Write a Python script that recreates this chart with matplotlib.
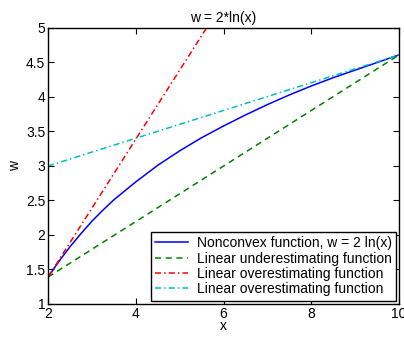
import matplotlib
matplotlib.use("Agg")
import matplotlib.pyplot as plt

plt.rcParams["font.family"] = ["Liberation Sans", "DejaVu Sans"]

# values
curve_x = [2.0, 2.25, 2.5, 2.75, 3.0, 3.25, 3.5, 3.75, 4.0, 4.5, 5.0, 5.5, 6.0, 6.5, 7.0,
           7.5, 8.0, 8.5, 9.0, 9.5, 10.0]
curve_w = [1.39, 1.62, 1.83, 2.02, 2.20, 2.36, 2.51, 2.64, 2.77, 3.01, 3.22, 3.41, 3.58,
           3.74, 3.89, 4.03, 4.16, 4.28, 4.39, 4.50, 4.61]
under_x = [2.0, 10.0]
under_w = [1.39, 4.61]
over1_x = [2.0, 5.61]
over1_w = [1.39, 5.0]
over2_x = [2.0, 10.0]
over2_w = [3.0, 4.61]

labels = [
    "Nonconvex function, w = 2 ln(x)",
    "Linear underestimating function",
    "Linear overestimating function",
    "Linear overestimating function",
]

fig = plt.figure(figsize=(4.04, 3.37), dpi=100)
ax = fig.add_axes([0.119, 0.098, 0.869, 0.819])

ax.plot(curve_x, curve_w, color="#0000ff", linewidth=1.1, label=labels[0])
ax.plot(under_x, under_w, color="#008000", linestyle=(0, (4, 3)), linewidth=1.1, label=labels[1])
ax.plot(over1_x, over1_w, color="#ff0000", linestyle=(0, (4, 2, 1, 2)), linewidth=1.1, label=labels[2])
ax.plot(over2_x, over2_w, color="#00bfbf", linestyle=(0, (4, 2, 1, 2)), linewidth=1.1, label=labels[3])

ax.set_xlim(2, 10)
ax.set_ylim(1, 5)
ax.set_xticks([2, 4, 6, 8, 10])
ax.set_yticks([1, 1.5, 2, 2.5, 3, 3.5, 4, 4.5, 5])
ax.set_yticklabels(["1", "1.5", "2", "2.5", "3", "3.5", "4", "4.5", "5"])
ax.tick_params(direction="in", top=True, right=True, labelsize=10, length=4, pad=2)
for s in ax.spines.values():
    s.set_linewidth(1.0)

ax.set_title("w = 2*ln(x)", fontsize=10, pad=4)
ax.set_xlabel("x", fontsize=10, labelpad=-1)
ax.set_ylabel("w", fontsize=10, labelpad=3)

leg = ax.legend(loc="lower right", fontsize=10, fancybox=False, framealpha=1,
                edgecolor="black", borderpad=0.3, labelspacing=0.1,
                handlelength=2.4, handletextpad=0.6, borderaxespad=0.25)
leg.get_frame().set_linewidth(1.0)

fig.savefig("out.png", dpi=100)
